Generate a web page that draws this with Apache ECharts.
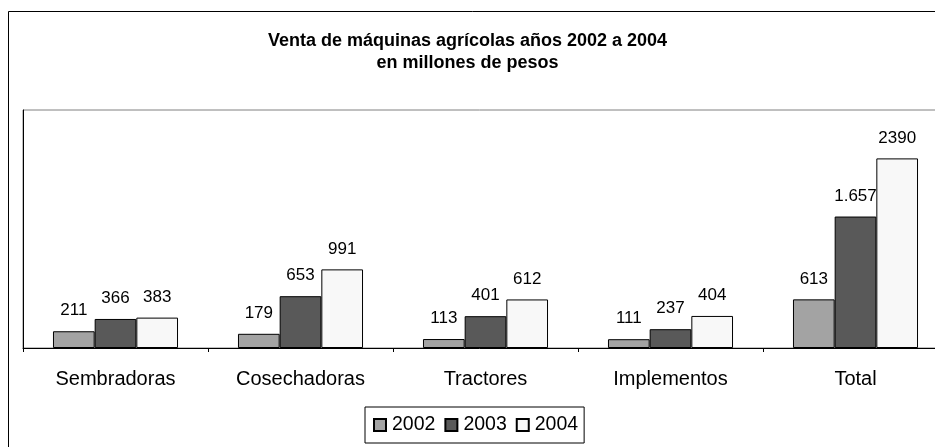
<!DOCTYPE html>
<html>
<head>
<meta charset="utf-8">
<script src="https://cdn.jsdelivr.net/npm/echarts@6/dist/echarts.min.js"></script>
<style>
html,body{margin:0;padding:0;background:#fff;}
#chart{width:935px;height:447px;}
</style>
</head>
<body>
<div id="chart"></div>
<script>
var categories = ['Sembradoras', 'Cosechadoras', 'Tractores', 'Implementos', 'Total'];
var values2002 = [211, 179, 113, 111, 613];
var values2003 = [366, 653, 401, 237, 1657];
var values2004 = [383, 991, 612, 404, 2390];
var labels2002 = ['211', '179', '113', '111', '613'];
var labels2003 = ['366', '653', '401', '237', '1.657'];
var labels2004 = ['383', '991', '612', '404', '2390'];
var seriesNames = ['2002', '2003', '2004'];
var yMax = 3000;

var FONT = '"Liberation Sans", Arial, sans-serif';
var chart = echarts.init(document.getElementById('chart'), null, {renderer: 'canvas'});

function mkSeries(name, data, labels, color) {
  return {
    name: name,
    type: 'bar',
    data: data,
    barGap: '0%',
    barCategoryGap: '32.4%',
    itemStyle: {color: color, borderColor: '#000', borderWidth: 1},
    label: {
      show: true,
      position: 'top',
      distance: 12,
      color: '#000',
      fontFamily: FONT,
      fontSize: 17,
      formatter: function (p) { return labels[p.dataIndex]; }
    },
    emphasis: {disabled: true}
  };
}

chart.setOption({
  animation: false,
  backgroundColor: '#fff',
  title: {
    text: 'Venta de máquinas agrícolas años 2002 a 2004\nen millones de pesos',
    left: 'center',
    top: 25,
    textStyle: {fontFamily: FONT, fontWeight: 'bold', fontSize: 18, lineHeight: 22, color: '#000'}
  },
  graphic: [{
    type: 'rect',
    shape: {x: 8.5, y: 11.5, width: 945, height: 450},
    style: {fill: null, stroke: '#000', lineWidth: 1},
    silent: true
  }],
  legend: {
    data: seriesNames,
    left: 365,
    top: 407,
    orient: 'horizontal',
    icon: 'rect',
    itemWidth: 12,
    itemHeight: 12,
    itemGap: 9,
    padding: [8, 6, 8, 8],
    borderColor: '#000',
    borderWidth: 1,
    textStyle: {fontFamily: FONT, fontSize: 19.5, color: '#000', padding: [0, 0, 0, 1]},
    selectedMode: false
  },
  grid: {
    left: 23,
    top: 110,
    width: 925,
    height: 238,
    outerBoundsMode: 'none',
    containLabel: false,
    show: true,
    borderColor: '#808080',
    borderWidth: 1,
    backgroundColor: 'transparent'
  },
  xAxis: {
    type: 'category',
    data: categories,
    axisLine: {lineStyle: {color: '#000', width: 1}},
    axisTick: {show: true, alignWithLabel: false, length: 4, lineStyle: {color: '#000'}},
    axisLabel: {fontFamily: FONT, fontSize: 20, color: '#000', margin: 21}
  },
  yAxis: {
    type: 'value',
    min: 0,
    max: yMax,
    axisLine: {show: true, lineStyle: {color: '#000'}},
    axisTick: {show: false},
    axisLabel: {show: false},
    splitLine: {show: false}
  },
  series: [
    mkSeries(seriesNames[0], values2002, labels2002, '#A3A3A3'),
    mkSeries(seriesNames[1], values2003, labels2003, '#595959'),
    mkSeries(seriesNames[2], values2004, labels2004, '#F8F8F8')
  ]
});
</script>
</body>
</html>
